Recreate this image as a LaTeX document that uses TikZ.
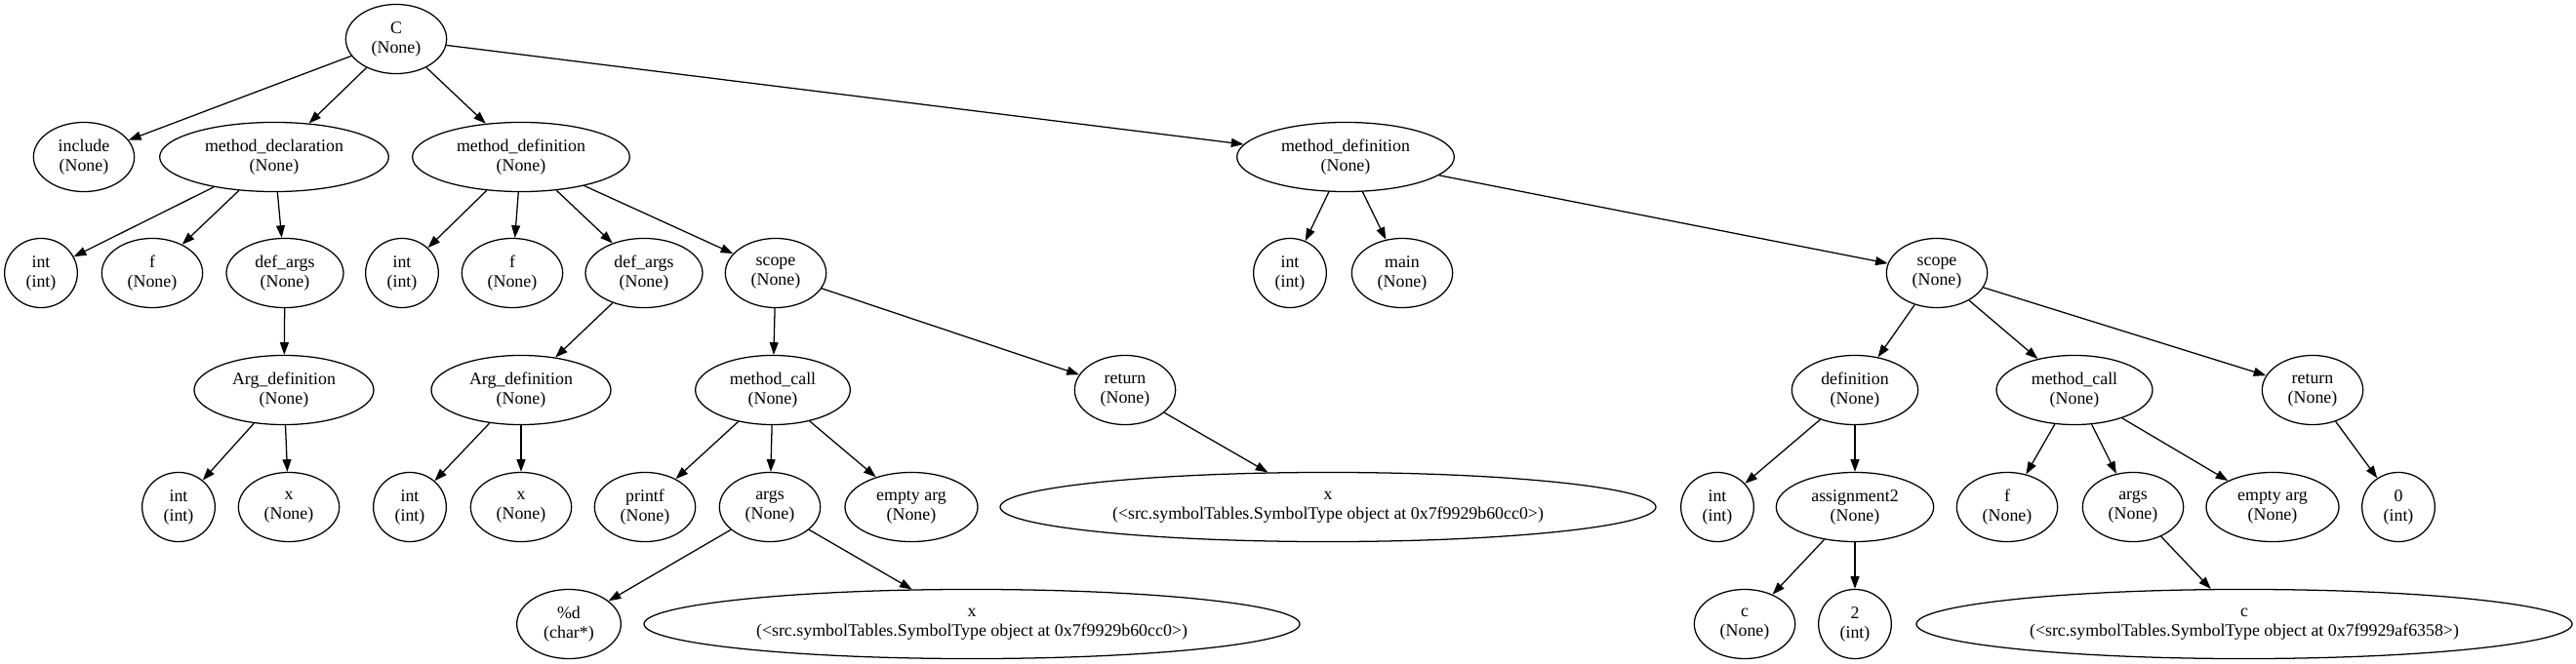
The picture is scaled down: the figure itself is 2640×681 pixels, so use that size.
\documentclass[tikz,border=0pt]{standalone}
\usepackage{fontspec}
\setmainfont{Liberation Serif}
\usetikzlibrary{shapes.geometric,arrows.meta}

\begin{document}
\begin{tikzpicture}[x=0.75pt, y=-0.75pt,
	ast/.style={draw, ellipse, line width=0.95pt, inner sep=0pt, minimum height=53.3pt,
		align=center, font=\fontsize{13.4}{15}\selectfont},
	narrowast/.style={ast, minimum width=56pt},
	roundast/.style={ast, minimum width=77.5pt},
	longast/.style={ast, minimum width=504pt},
	astlink/.style={line width=0.95pt, -{Triangle[length=9.5pt, width=6.7pt]}}]
	\useasboundingbox (0,0) rectangle (2640,681);

	% root
	\node [roundast] (C) at (406,40) {C\\(None)};

	% level 1
	\node [roundast] (include) at (86,161) {include\\(None)};
	\node [ast, minimum width=176pt] (mdecl) at (281,161) {method\_declaration\\(None)};
	\node [ast, minimum width=167pt] (mdefA) at (534,161) {method\_definition\\(None)};
	\node [ast, minimum width=167pt] (mdefB) at (1379,161) {method\_definition\\(None)};

	% level 2
	\node [narrowast] (intA) at (42,280) {int\\(int)};
	\node [roundast] (fA) at (156,280) {f\\(None)};
	\node [ast, minimum width=90pt] (dargsA) at (292,280) {def\_args\\(None)};
	\node [narrowast] (intB) at (412,280) {int\\(int)};
	\node [roundast] (fB) at (525,280) {f\\(None)};
	\node [ast, minimum width=90pt] (dargsB) at (660,280) {def\_args\\(None)};
	\node [roundast] (scopeA) at (795,280) {scope\\(None)};
	\node [narrowast] (intC) at (1322,280) {int\\(int)};
	\node [roundast] (main) at (1437,280) {main\\(None)};
	\node [roundast] (scopeB) at (1985,280) {scope\\(None)};

	% level 3
	\node [ast, minimum width=138pt] (argA) at (291,400) {Arg\_definition\\(None)};
	\node [ast, minimum width=138pt] (argB) at (534,400) {Arg\_definition\\(None)};
	\node [ast, minimum width=119pt] (callA) at (792,400) {method\_call\\(None)};
	\node [roundast] (retA) at (1153,400) {return\\(None)};
	\node [ast, minimum width=97pt] (defn) at (1901,400) {definition\\(None)};
	\node [ast, minimum width=120pt] (callB) at (2126,400) {method\_call\\(None)};
	\node [roundast] (retB) at (2370,400) {return\\(None)};

	% level 4
	\node [narrowast] (intD) at (183,520) {int\\(int)};
	\node [roundast] (xA) at (296,520) {x\\(None)};
	\node [narrowast] (intE) at (420,520) {int\\(int)};
	\node [roundast] (xB) at (534,520) {x\\(None)};
	\node [roundast] (printf) at (661,520) {printf\\(None)};
	\node [roundast] (argsA) at (789,520) {args\\(None)};
	\node [ast, minimum width=102pt] (emptyA) at (934,520) {empty arg\\(None)};
	\node [longast] (xC) at (1361,520) {x\\(<src.symbolTables.SymbolType object at 0x7f9929b60cc0>)};
	\node [narrowast] (intF) at (1760,520) {int\\(int)};
	\node [ast, minimum width=121pt] (assign) at (1901,520) {assignment2\\(None)};
	\node [roundast] (fC) at (2057,520) {f\\(None)};
	\node [roundast] (argsB) at (2186,520) {args\\(None)};
	\node [ast, minimum width=102pt] (emptyB) at (2329,520) {empty arg\\(None)};
	\node [narrowast] (zero) at (2458,520) {0\\(int)};

	% level 5
	\node [ast, minimum width=80pt] (fmt) at (583,640) {\%d\\(char*)};
	\node [longast] (xD) at (996,640) {x\\(<src.symbolTables.SymbolType object at 0x7f9929b60cc0>)};
	\node [roundast] (cA) at (1788,640) {c\\(None)};
	\node [narrowast] (two) at (1901,640) {2\\(int)};
	\node [longast] (cB) at (2300,640) {c\\(<src.symbolTables.SymbolType object at 0x7f9929af6358>)};

	\foreach \a/\b in {C/include, C/mdecl, C/mdefA, C/mdefB,
			mdecl/intA, mdecl/fA, mdecl/dargsA, dargsA/argA, argA/intD, argA/xA,
			mdefA/intB, mdefA/fB, mdefA/dargsB, mdefA/scopeA, dargsB/argB, argB/intE, argB/xB,
			scopeA/callA, scopeA/retA, callA/printf, callA/argsA, callA/emptyA,
			argsA/fmt, argsA/xD, retA/xC,
			mdefB/intC, mdefB/main, mdefB/scopeB,
			scopeB/defn, scopeB/callB, scopeB/retB, defn/intF, defn/assign,
			assign/cA, assign/two, callB/fC, callB/argsB, callB/emptyB, argsB/cB, retB/zero}
		\draw [astlink] (\a) -- (\b);
\end{tikzpicture}
\end{document}
